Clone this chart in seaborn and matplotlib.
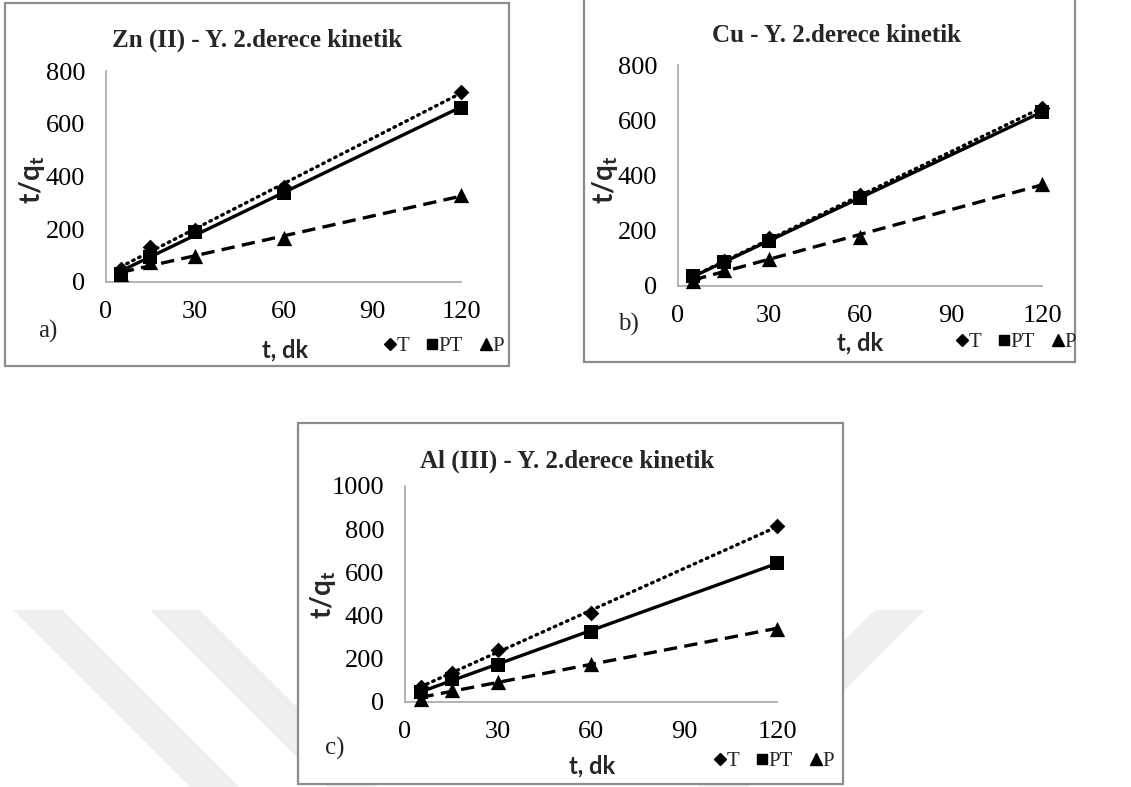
import numpy as np
import pandas as pd
import matplotlib
matplotlib.use("Agg")
import matplotlib.pyplot as plt
from matplotlib.patches import Rectangle, Polygon
from matplotlib.lines import Line2D
import seaborn as sns

# ---- data: t/q_t versus contact time t (min) ----
t_min = [5, 15, 30, 60, 120]

zn_T = [50, 133, 199, 360, 721]
zn_PT = [32, 95, 190, 338, 661]
zn_P = [29, 76, 99, 165, 329]

cu_T = [27, 91, 175, 329, 643]
cu_PT = [35, 87, 163, 317, 631]
cu_P = [18, 59, 99, 178, 369]

al_T = [70, 134, 240, 413, 815]
al_PT = [46, 108, 170, 325, 645]
al_P = [15, 54, 93, 175, 340]

series_names = ["T", "PT", "P"]
x_ticks = [0, 30, 60, 90, 120]

sns.set_theme(style="white")
plt.rcParams["font.family"] = ["Liberation Serif", "DejaVu Serif"]
plt.rcParams["mathtext.fontset"] = "custom"
plt.rcParams["mathtext.bf"] = "Lato:bold"
plt.rcParams["mathtext.rm"] = "Lato"

W, H = 1131, 787
fig = plt.figure(figsize=(W / 100, H / 100), dpi=100)
fig.patch.set_facecolor("white")


def fx(x):
    return x / W


def fy(y):
    return 1 - y / H


# faint background watermark bands (45 degree stripes)
wm = "#efefef"
for x0, x1, d in ((13, 62, 1), (150, 200, 1), (875, 925, -1)):
    y0, y1 = 610, 787
    dy = y1 - y0
    pts = [(x0, y0), (x1, y0), (x1 + d * dy, y1), (x0 + d * dy, y1)]
    fig.patches.append(Polygon([(fx(a), fy(b)) for a, b in pts], closed=True,
                               transform=fig.transFigure, facecolor=wm,
                               edgecolor="none", zorder=-3))

styles = {
    "T": dict(marker="D", ls=(0, (0.5, 1.5)), ms=8),
    "PT": dict(marker="s", ls="-", ms=9.5),
    "P": dict(marker="^", ls=(0, (4, 2.2)), ms=11),
}

panels = [
    dict(frame=(5, 3, 509, 366), ax=(106, 71, 461, 282), ymax=800, ystep=200,
         title="Zn (II) - Y. 2.derece kinetik", title_xy=(257, 40),
         ylab_xy=(32, 180), tag="a)", tag_xy=(48, 331), xlab_xy=(285, 350),
         leg_xy=(504, 346), data=(zn_T, zn_PT, zn_P)),
    dict(frame=(584, -2, 1075, 362), ax=(678, 65, 1042, 286), ymax=800, ystep=200,
         title="Cu - Y. 2.derece kinetik", title_xy=(837, 36),
         ylab_xy=(605, 180), tag="b)", tag_xy=(628, 324), xlab_xy=(860, 343),
         leg_xy=(1076, 342), data=(cu_T, cu_PT, cu_P)),
    dict(frame=(298, 423, 843, 784), ax=(405, 486, 777, 702), ymax=1000, ystep=200,
         title="Al (III) - Y. 2.derece kinetik", title_xy=(567, 461),
         ylab_xy=(323, 595), tag="c)", tag_xy=(335, 748), xlab_xy=(592, 766),
         leg_xy=(834, 761), data=(al_T, al_PT, al_P)),
]

for p in panels:
    l, t, r, b = p["frame"]
    fig.patches.append(Rectangle((fx(l), fy(b)), fx(r - l), (b - t) / H,
                                 transform=fig.transFigure, facecolor="white",
                                 edgecolor="#8c8c8c", lw=1.6, zorder=-2))
    al, at, ar, ab = p["ax"]
    ax = fig.add_axes([fx(al), fy(ab), fx(ar - al), (ab - at) / H])
    ax.set_facecolor("none")

    for name, vals in zip(series_names, p["data"]):
        st = styles[name]
        df = pd.DataFrame({"t": t_min, "y": vals})
        sns.regplot(data=df, x="t", y="y", ax=ax, ci=None, scatter=False,
                    truncate=True,
                    line_kws=dict(color="black", lw=2.4, ls=st["ls"],
                                  dash_capstyle="round" if name == "T" else "butt"))
        sns.scatterplot(data=df, x="t", y="y", ax=ax, marker=st["marker"],
                        s=st["ms"] ** 2, color="black", edgecolor="black",
                        linewidth=0, zorder=5, clip_on=False)

    ax.set_xlim(0, 120)
    ax.set_ylim(0, p["ymax"])
    ax.set_xticks(x_ticks)
    ax.set_yticks(np.arange(0, p["ymax"] + 1, p["ystep"]))
    ax.tick_params(axis="both", length=0, labelsize=19, colors="black")
    ax.tick_params(axis="x", pad=14)
    ax.tick_params(axis="y", pad=15)
    for s in ("top", "right"):
        ax.spines[s].set_visible(False)
    for s in ("left", "bottom"):
        ax.spines[s].set_color("#a6a6a6")
        ax.spines[s].set_linewidth(1.2)
    ax.set_xlabel("")
    ax.set_ylabel("")

    fig.text(fx(p["title_xy"][0]), fy(p["title_xy"][1]), p["title"],
             ha="center", va="center", fontsize=18, fontweight="bold")
    fig.text(fx(p["ylab_xy"][0]), fy(p["ylab_xy"][1]), r"$\mathbf{t/q_t}$",
             ha="center", va="center", rotation=90, fontsize=20)
    fig.text(fx(p["tag_xy"][0]), fy(p["tag_xy"][1]), p["tag"],
             ha="center", va="center", fontsize=18)
    fig.text(fx(p["xlab_xy"][0]), fy(p["xlab_xy"][1]), "t, dk",
             ha="center", va="center", fontsize=17, fontweight="bold",
             family="Lato")

    handles = [Line2D([], [], ls="none", marker=m, color="black", ms=ms)
               for m, ms in (("D", 6), ("s", 7.5), ("^", 8))]
    fig.legend(handles, series_names, loc="center right",
               bbox_to_anchor=(fx(p["leg_xy"][0]), fy(p["leg_xy"][1])),
               ncol=3, frameon=False, fontsize=15, handlelength=0.55,
               handletextpad=0.05, columnspacing=0.8, borderpad=0,
               borderaxespad=0)

fig.savefig("out.png", dpi=100, facecolor="white")
